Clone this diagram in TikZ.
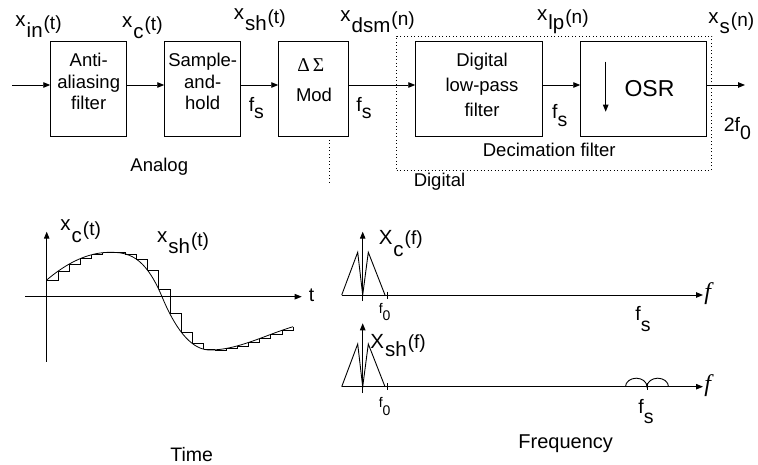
\documentclass[tikz,border=0pt]{standalone}
\usepackage{fontspec}
\setmainfont{Liberation Sans}
\newfontfamily\timesf{Liberation Serif}
\usetikzlibrary{arrows.meta}
\newcommand\fsz[1]{\fontsize{#1}{#1}\selectfont}
% signal label: raise of x, raise of paren, letter, subscript, argument
\newcommand\sig[5]{\raisebox{#1pt}{#3}\kern1pt#4\kern1pt\raisebox{#2pt}{\fsz{19}(#5)}}
\newcommand\fsub[3]{\raisebox{#1pt}{#2}#3}
\newcommand\hermval[7]{%
  \pgfmathsetmacro\hmH{#3-#2}%
  \pgfmathsetmacro\hmT{(#1-#2)/\hmH}%
  \pgfmathsetmacro\hmY{(2*\hmT^3-3*\hmT^2+1)*#4+(\hmT^3-2*\hmT^2+\hmT)*\hmH*#6+(-2*\hmT^3+3*\hmT^2)*#5+(\hmT^3-\hmT^2)*\hmH*#7}%
}
\newcommand\curveat[1]{%
  \ifdim #1pt<110pt \hermval{#1}{46.7}{110}{280}{252.3}{-0.85}{0}%
  \else\ifdim #1pt<162pt \hermval{#1}{110}{162}{252.3}{296.7}{0}{2.4}%
  \else\ifdim #1pt<210pt \hermval{#1}{162}{210}{296.7}{350}{2.4}{0}%
  \else \hermval{#1}{210}{293}{350}{326.7}{0}{-0.3}\fi\fi\fi}
\begin{document}
\begin{tikzpicture}[x=1pt,y=-1pt,line width=0.9pt,
  box/.style={draw,minimum width=#1,minimum height=95pt,inner sep=0pt},
  txt/.style={font=\fsz{18.5},inner sep=0pt},
  lab/.style={font=\fsz{20.5},inner sep=0pt,anchor=base west},
  flab/.style={font=\fsz{19.5},inner sep=0pt,anchor=base west},
  arr/.style={-{Triangle[length=7pt,width=5.5pt]}},
  dots/.style={dash pattern=on 1pt off 2.5pt}]
\useasboundingbox (0,0) rectangle (758,465);

% ---------- block diagram ----------
\node[box=76pt] (aa) at (88.7,88.5) {};
\node[box=76pt] (sh) at (202.7,88.5) {};
\node[box=70pt] (mod) at (313.7,88.5) {};
\node[box=127pt] (lp) at (479.2,88.5) {};
\node[box=126pt] (osr) at (643.7,88.5) {};
\node[draw,dots,minimum width=315pt,minimum height=134pt,inner sep=0pt] (dec) at (554.2,103) {};

\node[txt,anchor=base] (aa1) at (88.7,66.7) {Anti-};
\node[txt,anchor=base] (aa2) at (88.7,88.3) {aliasing};
\node[txt,anchor=base] (aa3) at (88.7,110) {filter};
\node[txt,anchor=base] (sh1) at (202.7,66.7) {Sample-};
\node[txt,anchor=base] (sh2) at (202.7,88.3) {and-};
\node[txt,anchor=base] (sh3) at (202.7,110) {hold};
\node[inner sep=0pt,anchor=base,font=\fsz{19.5}\timesf] (mod1) at (310.7,72) {Δ\kern3ptΣ};
\node[txt,anchor=base] (mod2) at (314,101.7) {Mod};
\node[txt,anchor=base] (lp1) at (482,66.7) {Digital};
\node[txt,anchor=base] (lp2) at (482,91.7) {low-pass};
\node[txt,anchor=base] (lp3) at (482,116.7) {filter};
\node[inner sep=0pt,anchor=base,font=\fsz{23}] (osr1) at (649.5,96.7) {OSR};
\node[txt,anchor=base] (decl) at (549.2,156.7) {Decimation filter};
\node[txt,anchor=base west] (digl) at (413.3,186.7) {Digital};
\node[txt,anchor=base west] (anal) at (130,171.7) {Analog};

\coordinate (in) at (12,85);
\coordinate (out) at (745,85);
\draw[arr] (in) -- (in -| aa.west);
\draw[arr] (in -| aa.east) -- (in -| sh.west);
\draw[arr] (in -| sh.east) -- (in -| mod.west);
\draw[arr] (in -| mod.east) -- (in -| lp.west);
\draw[arr] (in -| lp.east) -- (in -| osr.west);
\draw[arr] (in -| osr.east) -- (out);
\coordinate (da) at (605.7,61.7);
\coordinate (db) at (605.7,111.7);
\draw[arr] (da) -- (db);
\coordinate (sepb) at (329,183);
\draw[dots] (mod.south -| sepb) -- (sepb);

\node[lab] (lin) at (15,37.7) {\sig{11}{8}{x}{in}{t}};
\node[lab] (lxc) at (121.7,38.3) {\sig{11}{8}{x}{c}{t}};
\node[lab] (lxsh) at (233.3,31) {\sig{11}{7.5}{x}{sh}{t}};
\node[lab] (ldsm) at (340,33) {\sig{11}{7.5}{x}{dsm}{n}};
\node[lab] (llp) at (536.7,30) {\sig{9}{6}{x}{lp}{n}};
\node[lab] (lxs) at (708,33.3) {\sig{10}{7}{x}{s}{n}};
\node[flab] (fs1) at (248.3,118.3) {\fsub{7}{f}{s}};
\node[flab] (fs2) at (356,118.3) {\fsub{7}{f}{s}};
\node[flab] (fs3) at (551.7,126.7) {\fsub{8}{f}{s}};
\node[flab] (f20) at (723.3,140) {\fsub{8.3}{2f}{0}};

% ---------- time domain ----------
\coordinate (ty0) at (46.7,361.7);
\coordinate (ty1) at (46.7,231.7);
\coordinate (tx0) at (25,296.7);
\coordinate (tx1) at (301.7,296.7);
\draw[arr] (ty0) -- (ty1);
\draw[arr] (tx0) -- (tx1);
\node[flab] (tl) at (308.3,301.7) {t};
\draw[line width=0.8pt] (46.7,280) .. controls (67.8,262.1) and (88.9,252.3) .. (110,252.3)
  .. controls (127.33,252.3) and (144.67,255.1) .. (162,296.7)
  .. controls (178,335.1) and (194,350) .. (210,350)
  .. controls (237.67,350) and (265.33,335.0) .. (293,326.7);
\foreach \k in {0,...,21}{%
  \pgfmathsetmacro\xa{46.7+\k*11.2}%
  \pgfmathsetmacro\xb{\xa+11.2}%
  \curveat{\xa}\let\ya\hmY
  \curveat{\xb}\let\yb\hmY
  \draw[line width=0.7pt] (\xa,\ya) -- (\xb,\ya) -- (\xb,\yb);
}
\node[lab] (lxc2) at (60,243) {\sig{12}{7}{x}{c}{t}};
\node[lab] (lxsh2) at (156.7,253.3) {\sig{11}{7}{x}{sh}{t}};
\node[txt,anchor=base] (timel) at (191.7,461.5) {\fsz{19.5}Time};

% ---------- frequency domain ----------
\coordinate (fa0) at (341.7,295);
\coordinate (fa1) at (703,295);
\coordinate (fv0) at (362.7,301);
\coordinate (fv1) at (362.7,231.7);
\draw[arr] (fa0) -- (fa1);
\draw[arr] (fv0) -- (fv1);
\draw (341.7,295) -- (357.7,252.3) -- (362.7,295) -- (368.3,252.3) -- (385,295);
\draw (387.5,291.5) -- (387.5,298.5);
\node[lab] (Xc) at (378.3,257) {\sig{12}{12}{X}{c}{f}};
\node[flab,font=\fsz{14}] (f0a) at (378.3,320) {\fsub{7}{f}{0}};
\node[flab] (fsa) at (635,331.7) {\fsub{11}{f}{s}};
\node[inner sep=0pt,anchor=base west,font=\fsz{24}\timesf\itshape] (fia) at (704,299) {f};

\coordinate (fb0) at (341.7,386.7);
\coordinate (fb1) at (703,386.7);
\coordinate (fw0) at (362.7,393);
\coordinate (fw1) at (362.7,323.3);
\draw[arr] (fb0) -- (fb1);
\draw[arr] (fw0) -- (fw1);
\draw (341.7,386.7) -- (357.7,344) -- (362.7,386.7) -- (368.3,344) -- (385,386.7);
\draw (387.5,383) -- (387.5,390);
\draw (647,383) -- (647,390);
\draw (625.5,386.7) arc[start angle=180,end angle=0,x radius=10.75pt,y radius=8.5pt]
      arc[start angle=180,end angle=0,x radius=10.75pt,y radius=8.5pt];
\node[lab] (Xsh) at (370,356.7) {\sig{8}{8}{X}{sh}{f}};
\node[flab,font=\fsz{14}] (f0b) at (378.3,415) {\fsub{8}{f}{0}};
\node[flab] (fsb) at (638,423.3) {\fsub{10}{f}{s}};
\node[inner sep=0pt,anchor=base west,font=\fsz{24}\timesf\itshape] (fib) at (704,391) {f};
\node[txt,anchor=base west] (freql) at (518,448.3) {\fsz{20}Frequency};
\end{tikzpicture}
\end{document}
